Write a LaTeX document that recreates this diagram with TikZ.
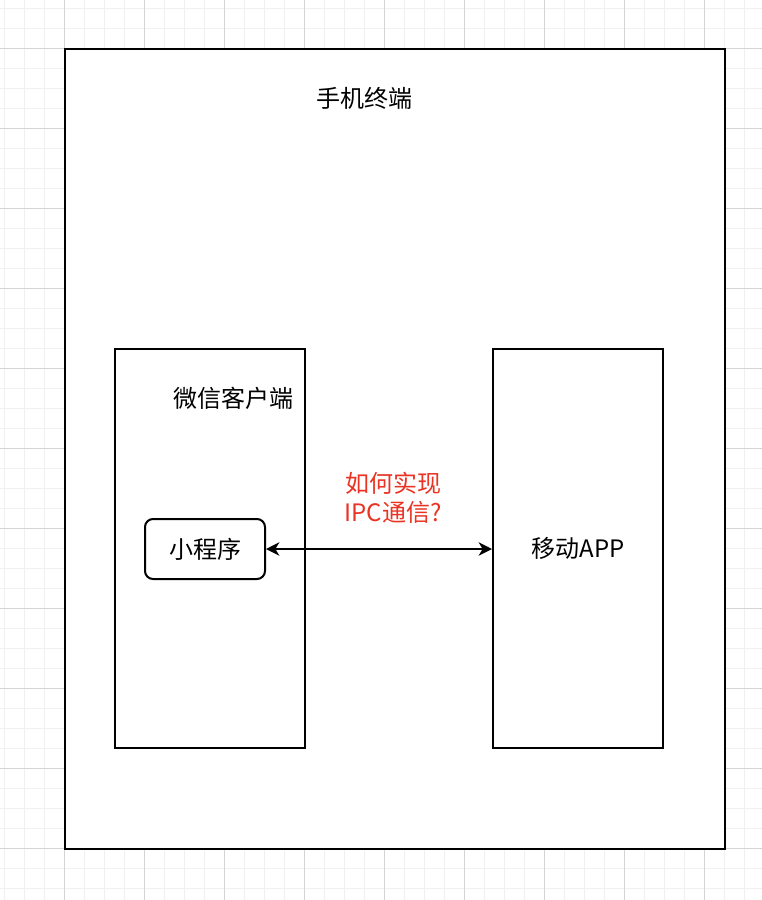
\documentclass[tikz,border=0pt]{standalone}
\usepackage{fontspec}
\setmainfont{Noto Sans CJK SC}
\usetikzlibrary{arrows.meta,positioning}
\definecolor{gridminor}{HTML}{F0F0F0}
\definecolor{gridmajor}{HTML}{D4D4D4}
\definecolor{askred}{HTML}{EA3323}
\tikzset{
  box/.style={draw=black,line width=1.5pt,fill=white,inner sep=0pt},
  lbl/.style={font=\fontsize{18}{22}\selectfont,inner sep=0pt},
  link/.style={{Stealth[length=10pt,width=10pt,inset=3pt]}-{Stealth[length=10pt,width=10pt,inset=3pt]},line width=1.5pt}
}
\begin{document}
\begin{tikzpicture}[x=0.75pt,y=-0.75pt,line join=miter]
  \useasboundingbox (0,0) rectangle (762,900);
  \fill[white] (0,0) rectangle (762,900);
  % grid
  \foreach \gx in {4,24,...,764} \draw[gridminor,line width=0.75pt] (\gx,0) -- (\gx,900);
  \foreach \gy in {8,28,...,900} \draw[gridminor,line width=0.75pt] (0,\gy) -- (762,\gy);
  \foreach \gx in {64,144,...,764} \draw[gridmajor,line width=0.75pt] (\gx,0) -- (\gx,900);
  \foreach \gy in {48,128,...,900} \draw[gridmajor,line width=0.75pt] (0,\gy) -- (762,\gy);
  % boxes
  \node[box,minimum width=495pt,minimum height=600pt] (phone) at (395,449) {};
  \node[lbl] (phonelabel) at (364,98) {手机终端};
  \node[box,minimum width=142.5pt,minimum height=299.25pt] (wx) at (210,548.5) {};
  \node[lbl] (wxlabel) at (233,398) {微信客户端};
  \node[box,lbl,rounded corners=6pt,minimum width=90pt,minimum height=45pt] (mini) at (205,549) {小程序};
  \node[box,lbl,minimum width=127.5pt,minimum height=299.25pt] (app) at (578,548.5) {移动APP};
  % link
  \draw[link] (mini.east) -- (mini.east -| app.west);
  \node[lbl,text=askred,align=center] (ipc) at (393,498) {如何实现\\IPC通信?};
\end{tikzpicture}
\end{document}
